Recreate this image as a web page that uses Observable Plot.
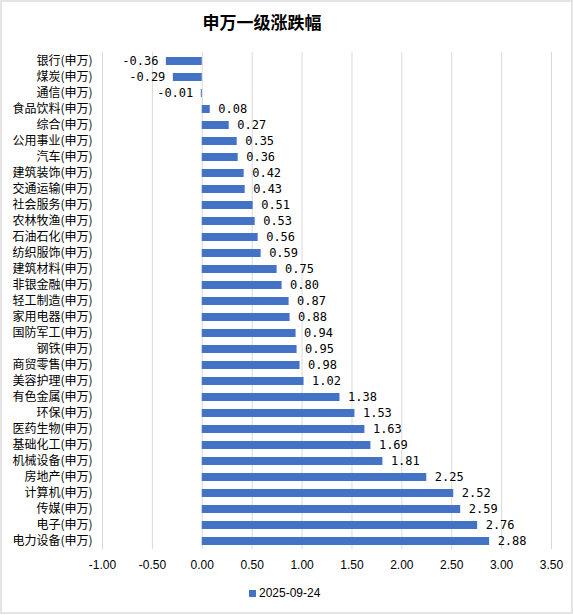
<!DOCTYPE html>
<html><head><meta charset="utf-8">
<script src="https://cdn.jsdelivr.net/npm/d3@7"></script>
<script src="https://cdn.jsdelivr.net/npm/@observablehq/plot@0.6"></script>
<style>
html,body{margin:0;padding:0;background:#fff;width:573px;height:615px;overflow:hidden;}
#frame{position:absolute;left:0;top:0;width:573px;height:614px;box-sizing:border-box;border:2px solid #e4e4e4;}
#title{position:absolute;left:0;top:10px;width:524px;text-align:center;font:bold 17px "Noto Sans CJK SC",sans-serif;line-height:24px;color:#000;}
#chart{position:absolute;left:0;top:44px;}
#legend{position:absolute;left:249px;top:585px;font:12px "Liberation Sans",Arial,sans-serif;color:#000;line-height:16px;display:flex;align-items:center;}
#legend span.sw{display:inline-block;width:7px;height:7px;background:#4472C4;margin-right:3px;}
</style>
</head><body>
<div id="frame"></div>
<div id="title">申万一级涨跌幅</div>
<div id="chart"></div>
<div id="legend"><span class="sw"></span><span>2025-09-24</span></div>
<script>
const names = ["银行(申万)","煤炭(申万)","通信(申万)","食品饮料(申万)","综合(申万)","公用事业(申万)","汽车(申万)","建筑装饰(申万)","交通运输(申万)","社会服务(申万)","农林牧渔(申万)","石油石化(申万)","纺织服饰(申万)","建筑材料(申万)","非银金融(申万)","轻工制造(申万)","家用电器(申万)","国防军工(申万)","钢铁(申万)","商贸零售(申万)","美容护理(申万)","有色金属(申万)","环保(申万)","医药生物(申万)","基础化工(申万)","机械设备(申万)","房地产(申万)","计算机(申万)","传媒(申万)","电子(申万)","电力设备(申万)"];
const values = [-0.36,-0.29,-0.01,0.08,0.27,0.35,0.36,0.42,0.43,0.51,0.53,0.56,0.59,0.75,0.80,0.87,0.88,0.94,0.95,0.98,1.02,1.38,1.53,1.63,1.69,1.81,2.25,2.52,2.59,2.76,2.88];
const xTicks = [-1,-0.5,0,0.5,1,1.5,2,2.5,3,3.5];
const seriesName = "2025-09-24";

const data = names.map((n,i)=>({name:n, value:values[i]}));
const fmt = d=>d.toFixed(2);

const chart = Plot.plot({
  width: 573,
  height: 540,
  marginTop: 8,
  marginBottom: 35,
  marginLeft: 102,
  marginRight: 22,
  style: {background:"transparent", overflow:"visible"},
  x: {domain:[-1,3.5], ticks:xTicks, tickFormat:fmt, label:null},
  y: {domain:names, paddingInner:0.5, paddingOuter:0.25, label:null},
  marks: [
    Plot.gridX(xTicks, {stroke:"#d9d9d9", strokeOpacity:1, strokeWidth:1}),
    Plot.axisX({ticks:xTicks, tickFormat:fmt, tickSize:0, tickPadding:11, fontSize:12, fontFamily:"Liberation Sans, Arial, sans-serif", fill:"#000", label:null}),
    Plot.axisY({tickSize:0, tickPadding:10, fontSize:12, fontFamily:"Noto Sans CJK SC, sans-serif", fill:"#000", label:null}),
    Plot.barX(data, {x:"value", y:"name", fill:"#4472C4"}),
    Plot.text(data.filter(d=>d.value<0), {x:"value", y:"name", text:d=>fmt(d.value), textAnchor:"end", dx:-8, fontSize:12, fontFamily:"DejaVu Sans Mono, monospace", fill:"#000"}),
    Plot.text(data.filter(d=>d.value>=0), {x:"value", y:"name", text:d=>fmt(d.value), textAnchor:"start", dx:8, fontSize:12, fontFamily:"DejaVu Sans Mono, monospace", fill:"#000"})
  ]
});
document.getElementById("chart").appendChild(chart);
</script>
</body></html>
